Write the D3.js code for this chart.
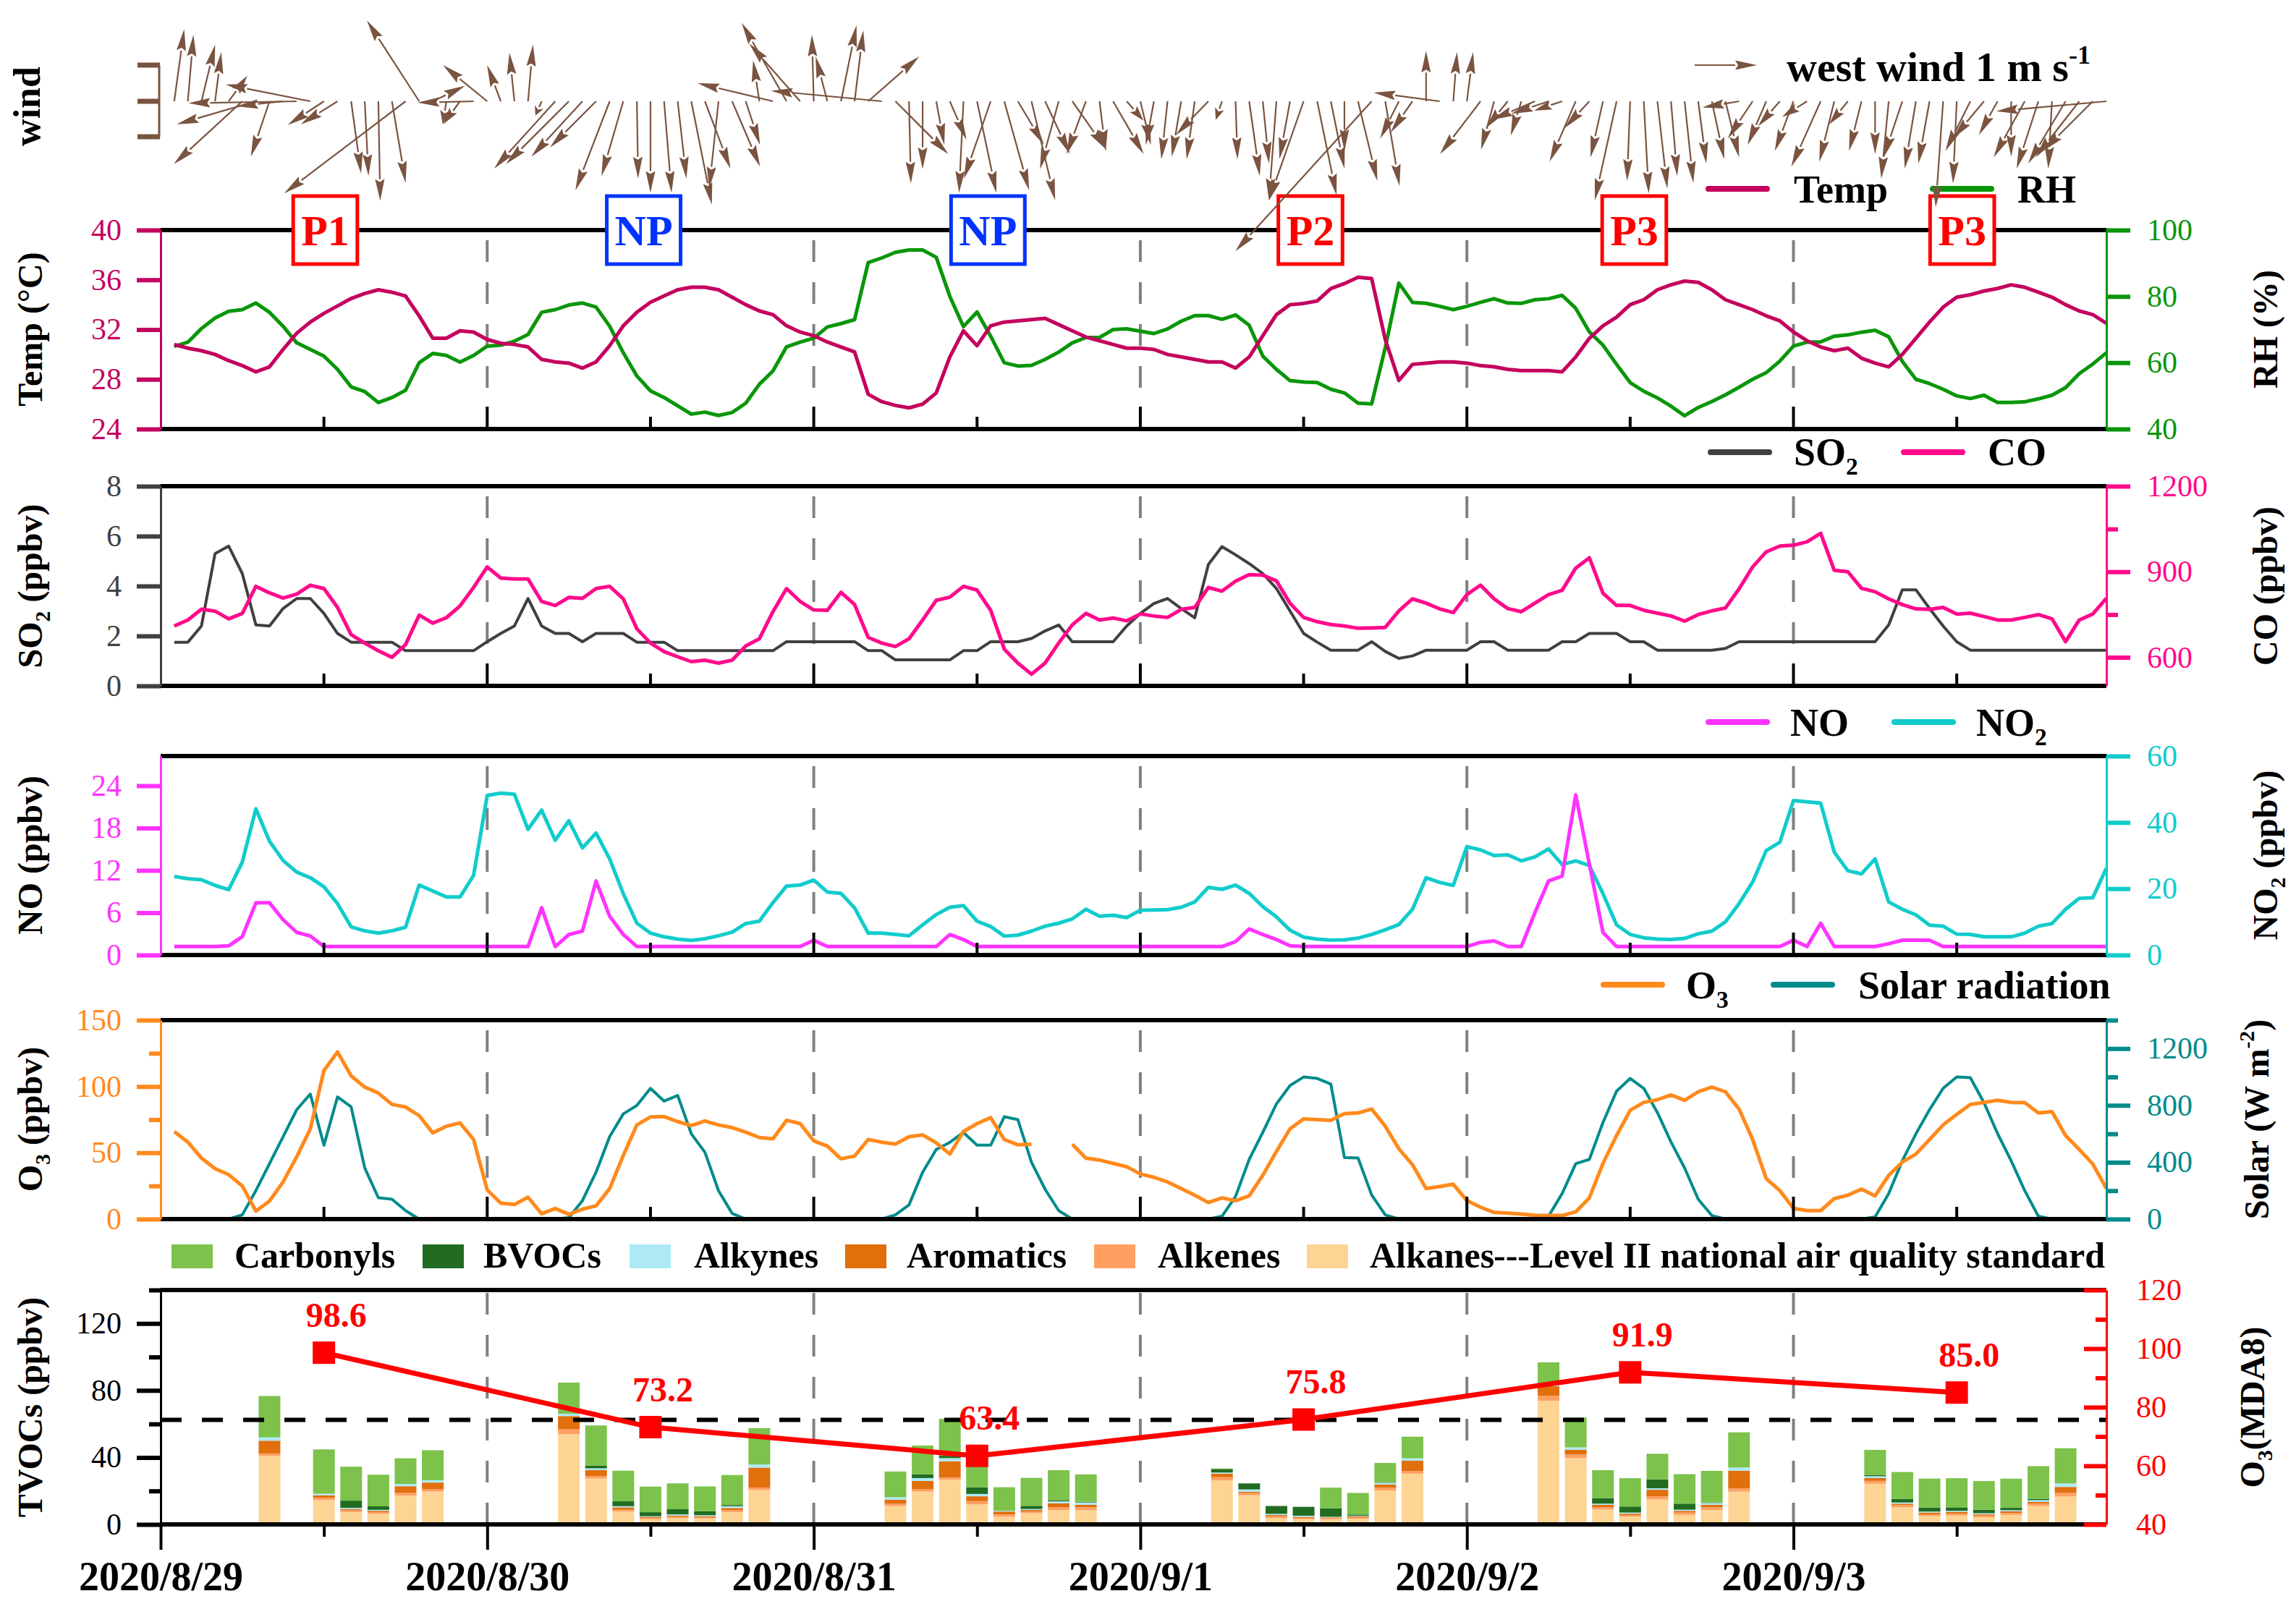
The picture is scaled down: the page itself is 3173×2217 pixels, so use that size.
<!DOCTYPE html>
<html>
<head>
<meta charset="utf-8">
<title>Wind, meteorology, pollutants and VOCs 2020/8/29 - 2020/9/3</title>
<script src="https://cdn.jsdelivr.net/npm/d3@7"></script>
<style>
  html, body { margin: 0; padding: 0; background: #fff; overflow: hidden; }
  svg { display: block; font-family: "Liberation Serif", "Times New Roman", serif; }
</style>
</head>
<body>
<svg id="chart" width="3173" height="2217"></svg>
<script>
// hourly index, hour 0 = 2020/8/29 00:00
var hours = d3.range(1, 144);
var dayTicks = [0, 24, 48, 72, 96, 120];
var dayLabels = ['2020/8/29', '2020/8/30', '2020/8/31', '2020/9/1', '2020/9/2', '2020/9/3'];
var noonTicks = [12, 36, 60, 84, 108, 132];

// wind vectors (m/s, u = east, v = north)
var windU = [0.16,0.09,0.22,0.10,0.30,-1.10,-1.27,-0.30,-0.75,-1.74,-1.36,-0.58,-0.59,0.16,0.06,0.03,0.22,-1.95,-0.84,0.52,-0.06,-0.27,-0.90,-0.71,
  -0.22,-0.08,0.08,-0.10,-0.98,-1.01,-0.82,-0.74,-0.55,-0.35,0.02,0,0.12,0.14,0.33,0.41,-0.15,0.45,0.23,-0.10,-1.21,-0.72,-0.82,-0.03,
  -0.19,0.25,0.14,0.82,-1.78,0.85,0.03,0,0.13,0.27,-0.07,0.31,-0.43,0.40,0.42,0.38,0.40,-0.30,0.55,-0.31,0.10,0.49,0.27,0.17,
  -0.13,-0.10,-0.15,-0.13,-0.52,-0.10,0.03,0.17,0.10,-0.12,-0.17,-0.56,0.31,0.22,0,0.31,-2.19,0.23,-0.30,-0.35,0,-1.06,0.06,0.10,
  -0.65,-0.21,-0.35,-0.17,-0.70,-0.60,-0.45,-0.42,-0.40,-0.20,-0.35,-0.05,0.08,0.16,0.10,0.14,0.13,0.20,0.22,-0.59,-0.40,-0.30,-0.35,-0.30,
  -0.40,-0.47,-0.24,-0.30,-0.20,0,-0.12,-0.30,-0.18,-0.18,-0.12,-0.06,-0.40,-0.50,-0.30,0,-0.50,-0.35,-0.06,-0.60,-0.70,-0.80,-1.77];
var windV = [1.16,1.07,0.91,0.79,0.41,-1.01,-0.37,-0.89,-0.08,-0.03,0.27,-0.38,-0.37,-1.16,-1.20,-1.60,-1.31,-1.48,1.30,0.25,-0.37,-0.37,-0.02,0.58,
  0.58,0.78,0.91,-0.23,-1.08,-1.01,-0.89,-0.74,-1.43,-1.20,-1.24,-1.47,-1.47,-1.24,-1.66,-1.08,-1.40,-1.05,-0.70,0.66,0.29,1.26,0.93,1.07,
  0.72,1.22,1.14,0.72,0.17,-0.85,-1.32,-1.09,-0.70,-0.62,-1.47,-1.47,-1.24,-1.43,-0.70,-1.59,-0.85,-1.09,-0.78,-0.85,-0.80,-0.85,-0.31,-0.70,
  -0.70,-0.93,-0.89,-0.93,-0.54,-0.30,-0.93,-1.20,-1.00,-1.59,-0.93,-1.60,-1.51,-1.08,-0.80,-1.28,-2.41,-1.36,-0.60,-0.50,0.81,0.14,0.79,0.79,
  -0.85,-0.78,-0.43,-0.55,-0.30,-0.20,-0.15,-0.97,-0.43,-0.90,-1.59,-1.28,-1.48,-1.40,-1.20,-1.31,-1.00,-0.93,-0.90,-0.10,-0.60,-0.70,-0.40,-0.80,
  -0.25,-1.05,-0.97,-0.37,-0.80,-0.85,-1.24,-0.90,-1.08,-1.00,-1.70,-1.32,-0.80,-0.60,-0.54,-0.89,-0.90,-1.08,-1.08,-1.00,-0.90,-0.80,-0.16];

var temp = [30.8,30.5,30.3,30.0,29.5,29.1,28.6,29.0,30.4,31.7,32.6,33.3,33.9,34.5,34.9,35.2,35.0,34.7,33.1,31.3,31.3,31.9,31.8,31.2,
  30.9,30.8,30.6,29.6,29.4,29.3,28.9,29.4,30.7,32.3,33.4,34.2,34.7,35.2,35.4,35.4,35.2,34.6,34.0,33.5,33.2,32.3,31.8,31.5,
  31.0,30.6,30.2,26.8,26.2,25.9,25.7,26.0,26.9,29.8,31.9,30.7,32.3,32.6,32.7,32.8,32.9,32.4,31.9,31.4,31.1,30.8,30.5,30.5,
  30.4,30.0,29.8,29.6,29.4,29.4,28.9,29.8,31.5,33.2,34.0,34.1,34.3,35.3,35.7,36.2,36.1,31.2,27.9,29.2,29.3,29.4,29.4,29.3,
  29.1,29.0,28.8,28.7,28.7,28.7,28.6,29.8,31.3,32.3,33.0,34.0,34.4,35.2,35.6,35.9,35.8,35.2,34.4,34.0,33.6,33.1,32.7,31.8,
  31.1,30.6,30.3,30.5,29.7,29.3,29.0,30.0,31.3,32.6,33.8,34.6,34.8,35.1,35.3,35.6,35.4,35.0,34.6,34.0,33.5,33.2,32.5];
var rh = [64.9,66.2,70.3,73.5,75.5,76.0,78.0,75.2,71.0,66.0,64.0,62.0,58.0,52.7,51.3,48.0,49.5,51.7,60.0,62.8,62.2,60.2,62.2,65.0,
  65.3,66.5,68.5,75.2,76.0,77.4,78.0,76.8,71.0,63.0,56.0,51.5,49.5,47.0,44.5,45.1,44.1,45.0,47.8,53.5,57.5,64.8,66.2,67.4,
  70.8,71.8,73.0,90.2,91.6,93.3,94.0,94.0,91.8,80.0,70.9,75.3,68.0,60.0,59.0,59.2,61.0,63.2,66.0,67.6,67.6,70.0,70.2,69.5,
  68.8,70.2,72.5,74.2,74.2,73.1,74.4,71.3,62.0,58.0,54.6,54.2,54.0,52.0,50.9,47.8,47.6,64.5,84.0,78.2,77.9,77.0,76.0,77.0,
  78.2,79.3,78.0,77.9,79.0,79.3,80.3,76.4,69.3,65.3,59.5,54.0,51.4,49.4,46.9,44.0,46.5,48.3,50.3,52.6,55.0,57.0,60.5,65.0,
  66.2,66.3,68.0,68.4,69.2,69.8,67.8,60.4,55.0,53.7,52.0,50.0,49.2,50.2,48.0,48.0,48.2,49.1,50.2,52.5,56.7,59.6,63.0];
var so2 = [1.75,1.75,2.4,5.3,5.6,4.5,2.44,2.4,3.1,3.5,3.5,2.9,2.1,1.75,1.75,1.75,1.75,1.41,1.41,1.41,1.41,1.41,1.41,1.77,
  2.1,2.4,3.5,2.4,2.1,2.1,1.77,2.1,2.1,2.1,1.75,1.75,1.75,1.41,1.41,1.41,1.41,1.41,1.41,1.41,1.41,1.77,1.77,1.77,
  1.77,1.77,1.77,1.41,1.41,1.04,1.04,1.04,1.04,1.04,1.41,1.41,1.77,1.77,1.77,1.9,2.2,2.44,1.77,1.77,1.77,1.77,2.4,2.9,
  3.3,3.5,3.1,2.73,4.86,5.58,5.25,4.9,4.5,3.9,3.0,2.1,1.75,1.43,1.43,1.43,1.77,1.38,1.1,1.2,1.43,1.43,1.43,1.43,
  1.77,1.77,1.43,1.43,1.43,1.43,1.77,1.77,2.1,2.1,2.1,1.77,1.77,1.43,1.43,1.43,1.43,1.43,1.5,1.77,1.77,1.77,1.77,1.77,
  1.77,1.77,1.77,1.77,1.77,1.77,2.44,3.85,3.85,3.1,2.4,1.77,1.43,1.43,1.43,1.43,1.43,1.43,1.43,1.43,1.43,1.43,1.43];
var co = [710,731,769,762,735,754,849,826,808,822,853,841,775,680,650,623,600,645,748,720,739,780,845,917,
  878,875,875,796,782,810,807,841,849,805,700,650,620,602,585,590,580,590,640,665,760,841,796,766,
  765,828,785,670,650,638,665,731,800,811,849,836,765,629,580,541,580,650,714,754,731,738,728,752,
  745,740,768,775,845,832,867,890,888,868,790,740,725,715,710,702,703,705,763,805,790,770,757,820,
  853,805,771,760,790,820,835,913,949,825,782,782,765,755,745,727,750,763,773,840,917,970,990,993,
  1005,1035,905,900,842,830,805,785,770,768,775,752,755,743,731,731,740,750,735,655,731,752,807];
var no = [1.2,1.2,1.2,1.2,1.3,2.6,7.4,7.4,5.0,3.2,2.7,1.2,1.2,1.2,1.2,1.2,1.2,1.2,1.2,1.2,1.2,1.2,1.2,1.2,
  1.2,1.2,1.2,6.7,1.2,2.9,3.4,10.5,5.5,2.9,1.2,1.2,1.2,1.2,1.2,1.2,1.2,1.2,1.2,1.2,1.2,1.2,1.2,2.1,
  1.2,1.2,1.2,1.2,1.2,1.2,1.2,1.2,1.2,2.9,2.2,1.2,1.2,1.2,1.2,1.2,1.2,1.2,1.2,1.2,1.2,1.2,1.2,1.2,
  1.2,1.2,1.2,1.2,1.2,1.2,1.9,3.7,2.9,2.2,1.3,1.2,1.2,1.2,1.2,1.2,1.2,1.2,1.2,1.2,1.2,1.2,1.2,1.2,
  1.8,2.0,1.2,1.2,6.0,10.5,11.2,22.7,12.9,3.2,1.2,1.2,1.2,1.2,1.2,1.2,1.2,1.2,1.2,1.2,1.2,1.2,1.2,2.1,
  1.2,4.5,1.2,1.2,1.2,1.2,1.6,2.1,2.1,2.1,1.2,1.2,1.2,1.2,1.2,1.2,1.2,1.2,1.2,1.2,1.2,1.2,1.2];
var no2 = [23.7,23.0,22.7,21.0,19.7,28.0,44.1,34.3,28.5,25.0,23.3,20.6,15.5,8.5,7.3,6.6,7.3,8.4,21.1,19.3,17.5,17.5,24.0,48.1,
  48.8,48.5,37.9,43.7,34.6,40.5,32.3,36.8,29.0,18.5,9.6,6.6,5.5,4.8,4.4,4.9,5.8,6.9,9.5,10.2,15.8,20.8,21.1,22.6,
  19.0,18.6,14.2,6.6,6.6,6.2,5.8,9.1,12.2,14.4,14.9,10.2,8.6,5.7,6.0,7.2,8.7,9.6,10.9,13.8,11.7,12.0,11.3,13.5,
  13.6,13.7,14.4,16.0,20.4,19.8,21.1,18.6,14.6,11.5,7.5,5.4,4.8,4.5,4.6,5.1,6.2,7.6,9.2,13.8,23.3,21.9,21.0,32.7,
  31.7,30.0,30.2,28.4,29.6,32.0,27.3,28.4,27.0,18.5,9.1,6.2,5.2,4.8,4.7,5.0,6.4,7.2,10.0,15.5,22.0,31.5,34.0,46.6,
  46.2,45.8,31.0,25.4,24.5,29.0,16.0,13.8,12.1,9.0,8.7,6.3,6.2,5.5,5.5,5.5,6.6,8.7,9.5,13.8,17.1,17.3,26.2];
var o3 = [66,58,46,38,33.5,25,6,13.6,28,47,68,112,126,108,99.5,95,86.5,84.5,78,65,70,72.5,60,22,
  12,11,16.5,4,8,3.6,7.5,10,23,48,71,77,77.3,73.5,70.5,74,71,69,65.5,61.5,60.5,74.5,72,59,
  55,45.5,47.5,60,58,56.6,62,63.5,57.5,49,66,72,76.5,60,56,56.4,null,null,56.4,46,44.5,42,39.5,34,
  31.5,28,23,18,12.5,16,13.8,17.5,33,51,68,75.5,75,74.5,79.5,80,83,70,53,41,23,24.5,26.3,14,
  9,5,4.5,3.8,2.9,2.7,2.7,5.5,16,42,63,82,88,90,93.6,89.5,96,99.5,96,83,60,30.5,21.5,8,
  6.4,6.4,15.5,18,22.6,17.5,33,43,49,60,71,79,86.5,88,89.6,88,87.8,80,81,63,52.5,41.5,23];
var solar = [0,0,0,0,0,30,200,390,580,770,880,520,860,790,360,150,140,60,0,0,0,0,0,0,
  0,0,0,0,0,10,130,330,580,740,800,920,830,870,600,470,200,40,0,0,0,0,0,0,
  0,0,0,0,0,30,100,330,490,540,610,520,520,720,700,400,210,60,0,0,0,0,0,0,
  0,0,0,0,0,20,160,420,610,810,940,1000,990,950,433,430,170,30,0,0,0,0,0,0,
  0,0,0,0,0,20,180,390,420,680,900,990,920,750,543,360,140,25,0,0,0,0,0,0,
  0,0,0,0,0,15,180,410,600,770,920,1000,995,820,602,410,200,20,0,0,0,0,0];

// VOC groups (ppbv), one bar every 2 h
var barHours = [8,12,14,16,18,20, 30,32,34,36,38,40,42,44, 54,56,58,60,62,64,66,68,
  78,80,82,84,86,88,90,92, 102,104,106,108,110,112,114,116, 126,128,130,132,134,136,138,140];
var alkanes = [41,14.6,7.4,6.3,17.1,19.6, 53.9,27.4,7.7,3.1,3.9,3.6,7.4,20.6, 11,19.6,26.7,12,4.6,6.7,8.6,8.6,
  26.3,17.4,3.9,3.1,3.1,3.4,20.3,30.3, 73.9,39.6,8.9,4.6,14.9,5.7,8.6,19.6, 24.3,10.3,4.9,5.3,4.3,5.7,11,16.7];
var alkenes = [1.4,1.4,1.1,0.9,1.7,1.4, 2.9,1.4,1.1,0.7,0.7,0.6,1.1,1.4, 1.4,1.4,1.4,1.9,1.4,1,1.7,1.7,
  1.9,1.4,1,0.7,0.7,0.7,1.7,1.7, 2.9,2.1,1.4,0.9,1.9,1.4,1.7,1.9, 1.7,1.4,1.1,1.1,1,1.1,1.4,2.1];
var aromatics = [7.6,1.4,0.7,0.9,4,4, 7.9,3.6,1.4,0.7,0.7,0.7,1.3,11.9, 2.4,5,9.6,2.9,1.7,0.9,2.4,1.4,
  2.1,0.7,0.7,0.7,0.4,0.7,1.9,6.1, 5.7,2.9,1.4,0.9,3.9,1,1.4,10.6, 1.7,0.7,1.1,1.1,0.7,1,1,3.6];
var alkynes = [2,1,0.7,0.6,1.4,1.4, 1.4,1.1,0.7,0.4,0.7,0.6,1.1,1.9, 1.4,1.7,1.9,1.4,0.5,0.6,1.1,1.4,
  0.7,1.4,0.7,0.7,0.4,0.4,1,1.4, 1.4,1.4,0.7,0.7,0.9,0.7,1.1,1.9, 1.1,0.7,0.6,0.6,0.7,0.7,1.1,2.1];
var bvocs = [0,0,4.3,2.1,0,0, 0,1.7,2.9,2.4,3.1,2.3,0.7,0, 0,2.3,1.4,3.9,0,1.9,0.7,0.4,
  2.1,3.6,4.7,5.3,5,0.7,0.4,0, 0,0,3.3,3.6,5.3,3.6,0.3,0, 0.7,2.1,2.3,2.1,2.1,1.4,0.7,0];
var carbonyls = [24.7,26.4,20.3,18.9,15.3,17.9, 18.6,23.9,18.3,15.3,15.4,14.9,17.9,21.7, 15.4,17.1,22.1,16.9,14,16.7,17.9,16.4,
  0.3,0,0,0,12.4,12.9,11.4,12.9, 12.9,17.9,16.7,16.9,15.3,17.6,18.9,21, 15,16.1,17.4,17.4,17.1,17.4,19.6,21];

// daily O3 MDA8 (ppbv) at noon, and the Level II standard
var mdaHours = [12, 36, 60, 84, 108, 132];
var mda8 = [98.6, 73.2, 63.4, 75.8, 91.9, 85.0];
var levelII = 75.7;

// pollution period marks
var periodHours = [12.1, 35.5, 60.8, 84.5, 108.3, 132.4];
var periodNames = ['P1', 'NP', 'NP', 'P2', 'P3', 'P3'];

var FONT = '"Liberation Serif","Times New Roman",serif';
var L = 222, R = 2911;
var svg = d3.select('#chart');
var x = d3.scaleLinear().domain([0, 143]).range([L, R]);

var yTemp = d3.scaleLinear().domain([24, 40]).range([593, 318]);
var yRH = d3.scaleLinear().domain([40, 100]).range([593, 318]);
var ySO2 = d3.scaleLinear().domain([0, 8]).range([948, 672]);
var yCO = d3.scaleLinear().domain([500, 1200]).range([948, 672]);
var yNO = d3.scaleLinear().domain([0, 28.2]).range([1320, 1045]);
var yNO2 = d3.scaleLinear().domain([0, 60]).range([1320, 1045]);
var yO3 = d3.scaleLinear().domain([0, 150]).range([1685, 1410]);
var ySolar = d3.scaleLinear().domain([0, 1400]).range([1685, 1410]);
var yTVOC = d3.scaleLinear().domain([0, 140]).range([2107, 1783]);
var yMDA = d3.scaleLinear().domain([40, 120]).range([2107, 1783]);
var windScale = 86; // px per m/s
var windBase = 140;

var C = {
  temp: '#c4005e', rh: '#0a960a', so2: '#404040', co: '#ff0a8c', no: '#ff33ff', no2: '#11cccc',
  o3: '#ff8a1c', solar: '#008b8b', wind: '#7a5440', red: '#ff0000', blue: '#0033ff'
};
var vocKeys = ['alkanes', 'alkenes', 'aromatics', 'alkynes', 'bvocs', 'carbonyls'];
var vocColors = { alkanes: '#fdd494', alkenes: '#ffa062', aromatics: '#e06f0c', alkynes: '#aeeaf6', bvocs: '#216c21', carbonyls: '#7cc24b' };

function rich(sel, parts, size) {
  var shift = 0;
  parts.forEach(function (p) {
    var ts = sel.append('tspan').text(p.t);
    var want = p.sub ? size * 0.24 : (p.sup ? -size * 0.42 : 0);
    if (want !== shift) { ts.attr('dy', want - shift); shift = want; }
    if (p.sub || p.sup) ts.attr('font-size', size * 0.62);
  });
}

function title(cx, cy, parts, size) {
  var t = svg.append('text')
    .attr('transform', 'translate(' + cx + ',' + cy + ') rotate(-90)')
    .attr('y', size * 0.35)
    .attr('text-anchor', 'middle')
    .attr('font-size', size).attr('font-weight', 'bold').attr('fill', '#000');
  rich(t, parts, size);
}

function grid(top, end) {
  svg.append('g').selectAll('line').data(dayTicks.slice(1)).enter().append('line')
    .attr('x1', x).attr('x2', x).attr('y1', top + 14).attr('y2', end)
    .attr('stroke', '#808080').attr('stroke-width', 4).attr('stroke-dasharray', '30 28');
}

function borders(top, bottom, inner) {
  var g = svg.append('g');
  [top, bottom].forEach(function (yy) {
    g.append('line').attr('x1', L).attr('x2', R).attr('y1', yy).attr('y2', yy)
      .attr('stroke', '#000').attr('stroke-width', 6);
  });
  if (!inner) return;
  g.selectAll('line.maj').data(dayTicks.slice(1)).enter().append('line').attr('class', 'maj')
    .attr('x1', x).attr('x2', x).attr('y1', bottom).attr('y2', bottom - 31)
    .attr('stroke', '#000').attr('stroke-width', 4);
  g.selectAll('line.mnr').data(noonTicks).enter().append('line').attr('class', 'mnr')
    .attr('x1', x).attr('x2', x).attr('y1', bottom).attr('y2', bottom - 17)
    .attr('stroke', '#000').attr('stroke-width', 4);
}

function yAxis(scale, side, major, minor, color, inward) {
  var pos = side === 'left' ? L : R;
  var mk = side === 'left' ? d3.axisLeft : d3.axisRight;
  var g = svg.append('g').attr('transform', 'translate(' + pos + ',0)');
  g.call(mk(scale).tickValues(major).tickSize(inward ? -31 : 33).tickSizeOuter(0)
    .tickPadding(inward ? 41 : (side === 'left' ? 21 : 23)).tickFormat(d3.format('d')));
  g.attr('font-family', FONT).attr('font-size', 42);
  g.select('.domain').attr('stroke', color).attr('stroke-width', 3);
  g.selectAll('.tick line').attr('stroke', color).attr('stroke-width', 6);
  g.selectAll('.tick text').attr('fill', color);
  if (minor) {
    var m = svg.append('g').attr('transform', 'translate(' + pos + ',0)');
    m.call(mk(scale).tickValues(minor).tickSize(inward ? -15 : 16).tickSizeOuter(0).tickFormat(''));
    m.select('.domain').remove();
    m.selectAll('.tick line').attr('stroke', color).attr('stroke-width', 6);
  }
}

function series(vals, yScale, color, w) {
  var line = d3.line()
    .defined(function (d) { return d != null; })
    .x(function (d, i) { return x(hours[i]); })
    .y(function (d) { return yScale(d); });
  svg.append('path').datum(vals).attr('d', line).attr('fill', 'none')
    .attr('stroke', color).attr('stroke-width', w).attr('stroke-linejoin', 'round');
}

function legendLine(x0, y, color, parts, tx, base) {
  svg.append('line').attr('x1', x0 + 4).attr('x2', x0 + 85).attr('y1', y).attr('y2', y)
    .attr('stroke', color).attr('stroke-width', 8).attr('stroke-linecap', 'round');
  var t = svg.append('text').attr('x', tx).attr('y', base)
    .attr('font-size', 54).attr('font-weight', 'bold').attr('fill', '#000');
  rich(t, parts, 54);
}

function arrow(g, x0, y0, x1, y1) {
  var dx = x1 - x0, dy = y1 - y0, len = Math.sqrt(dx * dx + dy * dy);
  if (len < 1) return;
  var ux = dx / len, uy = dy / len;
  var hl = Math.min(30, len * 0.6), hw = 6.5;
  var bx = x1 - ux * hl, by = y1 - uy * hl;
  g.append('line').attr('x1', x0).attr('y1', y0).attr('x2', bx).attr('y2', by)
    .attr('stroke', C.wind).attr('stroke-width', 2.2);
  g.append('path')
    .attr('d', 'M' + x1 + ',' + y1 + 'L' + (bx - uy * hw) + ',' + (by + ux * hw) +
      'L' + (bx + ux * 4) + ',' + (by + uy * 4) + 'L' + (bx + uy * hw) + ',' + (by - ux * hw) + 'Z')
    .attr('fill', C.wind);
}

// ---- Temp / RH ----
grid(318, 537);
series(rh, yRH, C.rh, 5);
series(temp, yTemp, C.temp, 5);
borders(318, 593, true);
yAxis(yTemp, 'left', [24, 28, 32, 36, 40], null, C.temp);
yAxis(yRH, 'right', [40, 60, 80, 100], null, C.rh);
title(41, 455, [{ t: 'Temp (°C)' }], 48);
title(3130, 455, [{ t: 'RH (%)' }], 48);

// ---- SO2 / CO ----
grid(672, 892);
series(so2, ySO2, C.so2, 4);
series(co, yCO, C.co, 5);
borders(672, 948, true);
yAxis(ySO2, 'left', [0, 2, 4, 6, 8], null, C.so2);
yAxis(yCO, 'right', [600, 900, 1200], [750, 1050], C.co);
title(41, 810, [{ t: 'SO' }, { t: '2', sub: true }, { t: ' (ppbv)' }], 48);
title(3130, 810, [{ t: 'CO (ppbv)' }], 48);

// ---- NO / NO2 ----
grid(1045, 1264);
series(no2, yNO2, C.no2, 5);
series(no, yNO, C.no, 5);
borders(1045, 1320, true);
yAxis(yNO, 'left', [0, 6, 12, 18, 24], null, C.no);
yAxis(yNO2, 'right', [0, 20, 40, 60], null, C.no2);
title(41, 1182, [{ t: 'NO (ppbv)' }], 48);
title(3130, 1182, [{ t: 'NO' }, { t: '2', sub: true }, { t: ' (ppbv)' }], 48);

// ---- O3 / Solar ----
grid(1410, 1629);
series(solar, ySolar, C.solar, 4);
series(o3, yO3, C.o3, 5);
borders(1410, 1685, true);
yAxis(yO3, 'left', [0, 50, 100, 150], [25, 75, 125], C.o3);
yAxis(ySolar, 'right', [0, 400, 800, 1200], [200, 600, 1000, 1400], C.solar);
title(41, 1547, [{ t: 'O' }, { t: '3', sub: true }, { t: ' (ppbv)' }], 48);
title(3118, 1547, [{ t: 'Solar (W m' }, { t: '-2', sup: true }, { t: ')' }], 48);

// ---- TVOCs / MDA8 ----
grid(1773, 2105);
var vocTable = barHours.map(function (h, i) {
  return { h: h, alkanes: alkanes[i], alkenes: alkenes[i], aromatics: aromatics[i],
    alkynes: alkynes[i], bvocs: bvocs[i], carbonyls: carbonyls[i] };
});
var stacked = d3.stack().keys(vocKeys)(vocTable);
svg.append('g').selectAll('g').data(stacked).enter().append('g')
  .attr('fill', function (d) { return vocColors[d.key]; })
  .selectAll('rect').data(function (d) { return d; }).enter().append('rect')
  .attr('x', function (d) { return x(d.data.h) - 15; })
  .attr('width', 30)
  .attr('y', function (d) { return yTVOC(d[1]); })
  .attr('height', function (d) { return Math.max(0, yTVOC(d[0]) - yTVOC(d[1])); });

svg.append('line').attr('x1', L).attr('x2', R).attr('y1', yMDA(levelII)).attr('y2', yMDA(levelII))
  .attr('stroke', '#000').attr('stroke-width', 6).attr('stroke-dasharray', '29 28');

var mdaLine = d3.line().x(function (d, i) { return x(mdaHours[i]); }).y(function (d) { return yMDA(d); });
svg.append('path').datum(mda8).attr('d', mdaLine).attr('fill', 'none')
  .attr('stroke', C.red).attr('stroke-width', 7);
svg.append('g').selectAll('rect').data(mda8).enter().append('rect')
  .attr('x', function (d, i) { return x(mdaHours[i]) - 15.5; })
  .attr('y', function (d) { return yMDA(d) - 15.5; })
  .attr('width', 31).attr('height', 31).attr('fill', C.red);
svg.append('g').selectAll('text').data(mda8).enter().append('text')
  .attr('x', function (d, i) { return x(mdaHours[i]) + 17; })
  .attr('y', function (d) { return yMDA(d) - 36; })
  .attr('text-anchor', 'middle').attr('font-size', 48).attr('font-weight', 'bold').attr('fill', C.red)
  .text(function (d) { return d.toFixed(1); });

borders(1783, 2107, false);
var xb = svg.append('g').attr('transform', 'translate(0,2107)');
xb.call(d3.axisBottom(x).tickValues(dayTicks).tickSize(35).tickSizeOuter(0).tickPadding(16)
  .tickFormat(function (d, i) { return dayLabels[i]; }));
xb.select('.domain').remove();
xb.attr('font-family', FONT).attr('font-size', 56).attr('font-weight', 'bold');
xb.selectAll('.tick line').attr('stroke', '#000').attr('stroke-width', 4);
xb.selectAll('.tick text').attr('fill', '#000');
var xm = svg.append('g').attr('transform', 'translate(0,2107)');
xm.call(d3.axisBottom(x).tickValues(noonTicks).tickSize(17).tickSizeOuter(0).tickFormat(''));
xm.select('.domain').remove();
xm.selectAll('.tick line').attr('stroke', '#000').attr('stroke-width', 4);
yAxis(yTVOC, 'left', [0, 40, 80, 120], [20, 60, 100, 140], '#000');
yAxis(yMDA, 'right', [40, 60, 80, 100, 120], [50, 70, 90, 110], C.red, true);
title(41, 1945, [{ t: 'TVOCs (ppbv)' }], 48);
title(3112, 1945, [{ t: 'O' }, { t: '3', sub: true }, { t: '(MDA8)' }], 48);

// VOC legend
var vocLegend = [
  { key: 'carbonyls', name: 'Carbonyls', sx: 237, tx: 324 },
  { key: 'bvocs', name: 'BVOCs', sx: 584, tx: 668 },
  { key: 'alkynes', name: 'Alkynes', sx: 870, tx: 959 },
  { key: 'aromatics', name: 'Aromatics', sx: 1168, tx: 1253 },
  { key: 'alkenes', name: 'Alkenes', sx: 1512, tx: 1600 },
  { key: 'alkanes', name: 'Alkanes', sx: 1806, tx: 1893 }
];
var lg = svg.append('g');
vocLegend.forEach(function (d) {
  lg.append('rect').attr('x', d.sx).attr('y', 1720).attr('width', 57).attr('height', 33)
    .attr('fill', vocColors[d.key]);
  lg.append('text').attr('x', d.tx).attr('y', 1752).attr('font-size', 50).attr('font-weight', 'bold')
    .text(d.name);
});
lg.append('text').attr('x', 2064).attr('y', 1752).attr('font-size', 50).attr('font-weight', 'bold')
  .text('---Level II national air quality standard');

// period boxes
var boxes = svg.append('g');
periodHours.forEach(function (h, i) {
  var col = periodNames[i] === 'NP' ? C.blue : C.red;
  var cx = x(h);
  var t = boxes.append('text').attr('x', cx).attr('y', 339).attr('text-anchor', 'middle')
    .attr('font-size', 60).attr('font-weight', 'bold').attr('fill', col).text(periodNames[i]);
  var w = t.node().getComputedTextLength() + 22;
  boxes.insert('rect', 'text').attr('x', cx - w / 2).attr('y', 271).attr('width', w).attr('height', 94)
    .attr('fill', '#fff').attr('stroke', col).attr('stroke-width', 5);
});
boxes.selectAll('text').raise();

// line legends
legendLine(2357, 261, C.temp, [{ t: 'Temp' }], 2479, 280);
legendLine(2667, 261, C.rh, [{ t: 'RH' }], 2788, 280);
legendLine(2360, 625, C.so2, [{ t: 'SO' }, { t: '2', sub: true }], 2479, 643);
legendLine(2627, 625, C.co, [{ t: 'CO' }], 2747, 643);
legendLine(2357, 998, C.no, [{ t: 'NO' }], 2474, 1017);
legendLine(2614, 998, C.no2, [{ t: 'NO' }, { t: '2', sub: true }], 2731, 1017);
legendLine(2212, 1361, C.o3, [{ t: 'O' }, { t: '3', sub: true }], 2330, 1380);
legendLine(2447, 1361, C.solar, [{ t: 'Solar radiation' }], 2568, 1380);

// ---- wind ----
var wg = svg.append('g');
wg.append('line').attr('x1', 220).attr('x2', 220).attr('y1', 90).attr('y2', 189)
  .attr('stroke', C.wind).attr('stroke-width', 3);
[90, windBase, 189].forEach(function (yy) {
  wg.append('line').attr('x1', 190).attr('x2', 221).attr('y1', yy).attr('y2', yy)
    .attr('stroke', C.wind).attr('stroke-width', 7);
});
hours.forEach(function (h, i) {
  var x0 = x(h);
  arrow(wg, x0, windBase, x0 + windU[i] * windScale, windBase - windV[i] * windScale);
});
arrow(wg, 2342, 90, 2342 + windScale, 90);
var wt = svg.append('text').attr('x', 2469).attr('y', 112).attr('font-size', 58).attr('font-weight', 'bold');
rich(wt, [{ t: 'west wind 1 m s' }, { t: '-1', sup: true }], 58);
title(37, 147, [{ t: 'wind' }], 52);
</script>
</body>
</html>
